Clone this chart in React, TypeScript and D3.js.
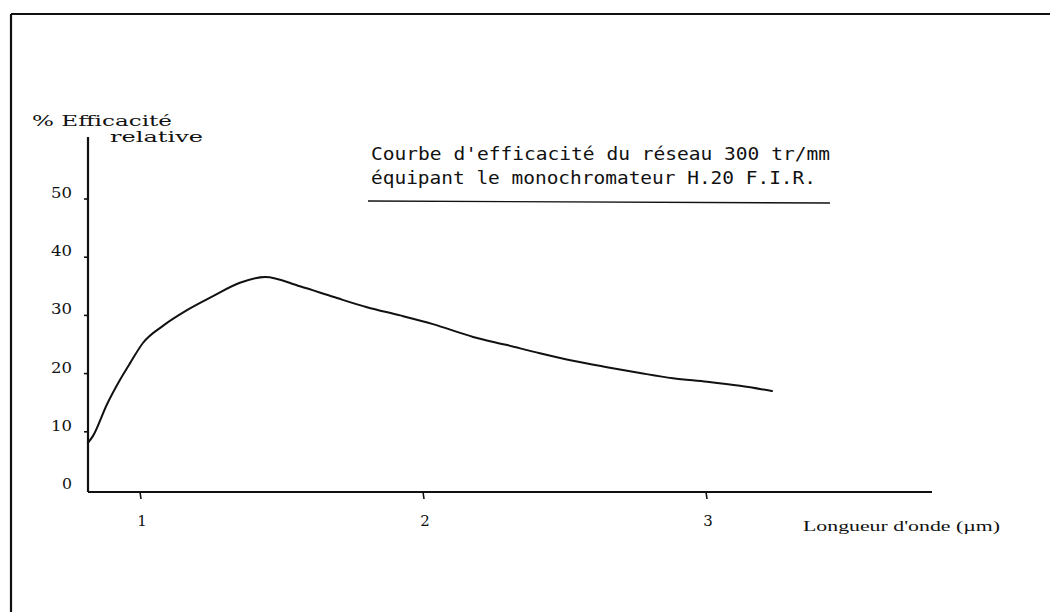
import React from "react";
import * as d3 from "d3";

const wavelength = [0.816, 0.834, 0.883, 0.929, 0.965, 1.011, 1.081, 1.166, 1.258, 1.353, 1.442, 1.565, 1.682, 1.802, 1.919, 2.035, 2.177, 2.297, 2.413, 2.53, 2.65, 2.767, 2.883, 3.004, 3.12, 3.233];
const efficiency = [8.1, 9.3, 14.7, 18.9, 21.8, 25.3, 28.2, 30.9, 33.3, 35.6, 36.6, 35.0, 33.2, 31.4, 30.0, 28.5, 26.3, 24.9, 23.5, 22.2, 21.1, 20.1, 19.2, 18.6, 17.9, 17.0];
const yTicks = [0, 10, 20, 30, 40, 50];
const xTicks = [1, 2, 3];
const titleLines = ["Courbe d'efficacité du réseau 300 tr/mm", "équipant le monochromateur H.20 F.I.R."];
const yLabelLines = ["% Efficacité", "relative"];
const xLabel = "Longueur d'onde (µm)";

const W = 1050;
const H = 612;

export default function App() {
  const x = d3.scaleLinear().domain([1, 3]).range([140, 706]);
  const y = d3.scaleLinear().domain([0, 50]).range([490, 199]);
  const x0 = x.invert(88);
  const xEnd = x.invert(932);
  const yTop = y.invert(137);
  const data = wavelength.map((w, i) => [w, efficiency[i]] as [number, number]);
  const line = d3
    .line<[number, number]>()
    .x((d) => x(d[0]))
    .y((d) => y(d[1]))
    .curve(d3.curveMonotoneX);
  const typewriter = "'DejaVu Serif', 'Liberation Serif', serif";
  const gothic = "'DejaVu Sans Mono', 'Liberation Mono', monospace";
  return (
    <svg
      width={W}
      height={H}
      style={{ position: "absolute", left: 0, top: 0, display: "block", background: "#fff" }}
    >
      <rect x={0} y={0} width={W} height={H} fill="#fff" />
      {/* page border */}
      <line x1={11} y1={14} x2={W} y2={14} stroke="#111" strokeWidth={2} />
      <line x1={11} y1={14} x2={11} y2={H} stroke="#111" strokeWidth={2.2} />

      {/* axes */}
      <line x1={x(x0)} y1={y(yTop)} x2={x(x0)} y2={y(0) + 2} stroke="#111" strokeWidth={2.2} />
      <line x1={x(x0)} y1={y(0) + 2} x2={x(xEnd)} y2={y(0) + 2} stroke="#111" strokeWidth={2} />

      {yTicks.map((t) => (
        <g key={"y" + t}>
          {t > 0 && (
            <line x1={x(x0) - 4} x2={x(x0)} y1={y(t)} y2={y(t)} stroke="#111" strokeWidth={1.6} />
          )}
          <text
            x={72}
            y={y(t) - 1}
            textAnchor="end"
            fontFamily={typewriter}
            fontSize={15}
            fill="#111"
            textLength={t === 0 ? 10 : 21}
            lengthAdjust="spacingAndGlyphs"
          >
            {t}
          </text>
        </g>
      ))}

      {xTicks.map((t) => (
        <g key={"x" + t}>
          <line x1={x(t)} x2={x(t) + 1} y1={y(0) + 2} y2={y(0) + 9} stroke="#111" strokeWidth={1.6} />
          <text
            x={x(t) + 2}
            y={526}
            textAnchor="middle"
            fontFamily={typewriter}
            fontSize={15}
            fill="#111"
          >
            {t}
          </text>
        </g>
      ))}

      {/* curve */}
      <path d={line(data) || ""} fill="none" stroke="#111" strokeWidth={2} strokeLinejoin="round" strokeLinecap="round" />

      {/* y label */}
      <text x={32} y={126} fontFamily={typewriter} fontSize={14} fill="#111" textLength={140} lengthAdjust="spacingAndGlyphs">
        {yLabelLines[0]}
      </text>
      <text x={110} y={142} fontFamily={typewriter} fontSize={14} fill="#111" textLength={93} lengthAdjust="spacingAndGlyphs">
        {yLabelLines[1]}
      </text>

      {/* title */}
      <text x={371} y={160} fontFamily={gothic} fontSize={18} fill="#111" textLength={459} lengthAdjust="spacingAndGlyphs">
        {titleLines[0]}
      </text>
      <text x={371} y={184} fontFamily={gothic} fontSize={18} fill="#111" textLength={445} lengthAdjust="spacingAndGlyphs">
        {titleLines[1]}
      </text>
      <line x1={368} y1={201} x2={830} y2={203} stroke="#111" strokeWidth={1.4} />

      {/* x label */}
      <text x={803} y={531} fontFamily="'Liberation Serif', 'DejaVu Serif', serif" fontSize={15} fill="#111" textLength={197} lengthAdjust="spacingAndGlyphs">
        {xLabel}
      </text>
    </svg>
  );
}
